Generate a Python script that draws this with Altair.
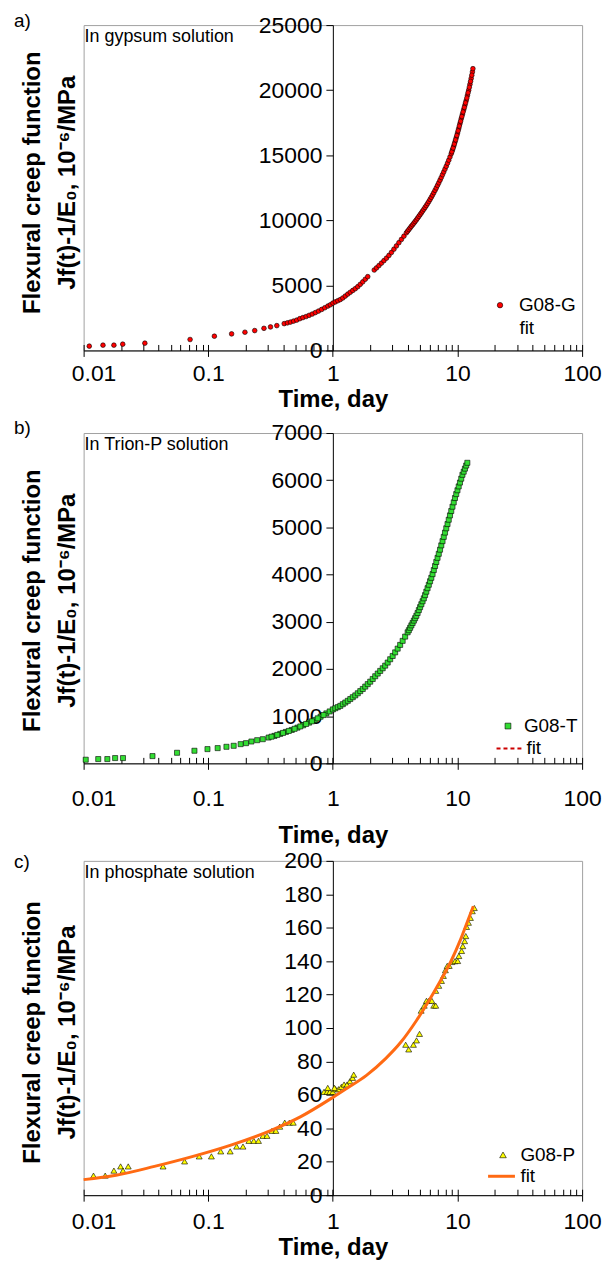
import altair as alt
import pandas as pd

FONT = "Liberation Sans"

# ---------------- (a) gypsum solution ----------------
a_series = "G08-G"
a_t = [0.0111, 0.0143, 0.0175, 0.0206, 0.031, 0.0715, 0.112, 0.154, 0.197, 0.236, 0.280, 0.316, 0.355,
       0.407, 0.432, 0.457, 0.484, 0.513, 0.543, 0.575, 0.610, 0.646, 0.684, 0.724, 0.767, 0.813, 0.861, 0.912, 0.955,
       1.0, 1.047, 1.096, 1.148, 1.202, 1.259, 1.318, 1.380, 1.445, 1.514, 1.585, 1.660, 1.738, 1.820, 1.905,
       2.148, 2.239, 2.344, 2.455, 2.570, 2.692, 2.818, 2.951, 3.090, 3.236, 3.388, 3.548, 3.715, 3.890,
       3.981, 4.074, 4.169, 4.266, 4.365, 4.467, 4.571, 4.677, 4.786, 4.898,
       5.012, 5.129, 5.248, 5.370, 5.495, 5.623, 5.754, 5.888, 6.026, 6.166,
       6.310, 6.457, 6.607, 6.761, 6.918, 7.079, 7.244, 7.413, 7.586, 7.762,
       7.943, 8.128, 8.318, 8.511, 8.710, 8.913, 9.120, 9.333, 9.550, 9.772,
       10.0, 10.23, 10.47, 10.72, 10.96, 11.22, 11.48, 11.75, 12.02, 12.30,
       12.59, 12.88, 13.18, 13.30,
       9.016, 9.226, 9.441, 9.661, 9.886, 10.12, 10.35, 10.59, 10.84, 11.09, 11.35, 11.61, 11.89, 12.16,
       12.45, 12.74, 13.03]
a_J = [330, 407, 407, 483, 560, 840, 1094, 1272, 1400, 1526, 1700, 1805, 1907,
       2060, 2120, 2180, 2255, 2330, 2440, 2525, 2605, 2700, 2797, 2910, 3025, 3150, 3280, 3410, 3510,
       3637, 3730, 3820, 3910, 4030, 4180, 4330, 4470, 4610, 4745, 4900, 5080, 5270, 5470, 5670,
       6180, 6340, 6520, 6710, 6900, 7090, 7300, 7530, 7780, 8030, 8280, 8530, 8780, 9040,
       9165, 9290, 9415, 9540, 9660, 9780, 9905, 10030, 10165, 10300,
       10435, 10570, 10710, 10850, 10990, 11130, 11285, 11440, 11605, 11770,
       11945, 12120, 12305, 12490, 12685, 12880, 13085, 13290, 13505, 13720,
       13935, 14150, 14385, 14620, 14870, 15120, 15410, 15700, 16020, 16340,
       16695, 17050, 17425, 17800, 18150, 18500, 18850, 19200, 19600, 20000,
       20450, 20900, 21400, 21650,
       15265, 15555, 15860, 16180, 16518, 16873, 17238, 17613, 17975, 18325, 18675, 19025, 19400, 19800,
       20225, 20675, 21150]
a_fit_t = [0.01, 0.02, 0.05, 0.1, 0.2, 0.3, 0.5, 0.7, 1.0, 1.5, 2.0, 3.0, 4.0, 5.0, 6.0, 7.0, 8.0, 9.0,
           10.0, 11.0, 12.0, 13.3]
a_fit_J = [300, 450, 720, 1030, 1420, 1760, 2290, 2840, 3637, 4720, 5900, 7760, 9210, 10330, 11500,
           12840, 14000, 15350, 16695, 18150, 19500, 21650]

# ---------------- (b) Trion-P solution ----------------
b_series = "G08-T"
b_t = [0.0104, 0.0131, 0.0155, 0.0179, 0.0207, 0.0357, 0.0562, 0.0775, 0.0986, 0.119, 0.140, 0.160, 0.182,
       0.201, 0.222, 0.247, 0.274, 0.305, 0.340, 0.378, 0.420, 0.468, 0.520, 0.578, 0.644, 0.716, 0.797, 0.887,
       0.322, 0.358, 0.398, 0.443, 0.493, 0.548, 0.610, 0.679, 0.756, 0.842, 0.943,
       1.0, 1.047, 1.096, 1.148, 1.202, 1.259, 1.318, 1.380, 1.445, 1.514, 1.585, 1.660, 1.738, 1.820, 1.905,
       1.995, 2.089, 2.188, 2.291, 2.399, 2.512, 2.630, 2.754, 2.884, 3.020, 3.162, 3.311, 3.467, 3.631,
       3.802, 3.981,
       4.074, 4.169, 4.266, 4.365, 4.467, 4.571, 4.677, 4.786, 4.898, 5.012,
       5.129, 5.248, 5.370, 5.495, 5.623, 5.754, 5.888, 6.026, 6.166, 6.310,
       6.457, 6.607, 6.761, 6.918, 7.079, 7.244, 7.413, 7.586, 7.762, 7.943,
       8.128, 8.318, 8.511, 8.710, 8.913, 9.120, 9.333, 9.550, 9.772, 10.0,
       10.23, 10.47, 10.72, 10.96, 11.22, 11.48, 11.75, 12.0]
b_J = [77, 91, 91, 112, 112, 154, 224, 267, 302, 323, 351, 372, 407,
       428, 463, 491, 512, 547, 582, 624, 666, 708, 757, 807, 863, 919, 989, 1059,
       565, 603, 645, 687, 732, 782, 835, 891, 954, 1024, 1100,
       1143, 1168, 1192, 1218, 1254, 1289, 1325, 1363, 1402, 1440, 1485, 1531, 1576, 1627, 1679,
       1731, 1788, 1846, 1903, 1959, 2015, 2071, 2136, 2206, 2276, 2352, 2431, 2510, 2596,
       2686, 2777,
       2822, 2873, 2924, 2974, 3025, 3076, 3127, 3186, 3248, 3310,
       3372, 3435, 3497, 3565, 3638, 3712, 3785, 3859, 3932, 4010,
       4096, 4182, 4268, 4355, 4441, 4528, 4619, 4709, 4800, 4890,
       4981, 5071, 5163, 5255, 5347, 5439, 5531, 5623, 5706, 5787,
       5869, 5951, 6033, 6115, 6181, 6246, 6311, 6369]
b_fit_t = [0.3, 0.5, 0.7, 1.0, 1.5, 2.0, 3.0, 4.0, 5.0, 6.0, 7.0, 8.0, 9.0, 10.0, 11.0, 12.0]
b_fit_J = [545, 740, 910, 1143, 1435, 1735, 2265, 2786, 3304, 3844, 4398, 4917, 5384, 5787, 6123, 6369]

# ---------------- (c) phosphate solution ----------------
c_series = "G08-P"
c_t = [0.0120, 0.0149, 0.0175, 0.0198, 0.0207, 0.0228, 0.0434, 0.0646, 0.0846, 0.106, 0.126, 0.150, 0.169,
       0.190, 0.212, 0.232, 0.253, 0.275, 0.296, 0.325, 0.349, 0.375, 0.411, 0.448, 0.481,
       0.849, 0.899, 0.945, 1.0, 1.05, 1.11, 1.17, 1.23, 1.30, 1.37, 1.44, 1.47, 0.91, 1.03,
       3.84, 4.06, 4.43, 4.69, 4.96, 5.11, 5.41, 5.64, 5.89, 6.23, 6.45, 6.69, 6.69, 7.08, 7.44,
       7.71, 8.00, 8.28, 8.58, 9.02, 9.55, 10.04, 10.26, 10.79, 11.03, 11.41, 11.66, 11.83, 12.25,
       12.70, 13.16, 13.65]
c_J = [11.7, 11.7, 14.7, 17.2, 14.7, 17.2, 17.2, 20.2, 23.2, 23.2, 26.2, 26.2, 29.1,
       29.1, 32.5, 32.5, 32.5, 35.5, 35.5, 38.5, 38.5, 41.0, 43.4, 43.4, 43.4,
       61.8, 61.8, 61.8, 61.8, 63.4, 63.4, 64.8, 66.2, 66.2, 68.2, 70.2, 72.1, 64.2, 64.2,
       90.0, 87.2, 90.0, 92.6, 96.5, 110.4, 113.4, 116.3, 116.3, 116.3, 113.4, 113.4, 122.3, 125.3, 128.2,
       131.2, 134.6, 137.2, 137.2, 139.5, 140.0, 140.1, 143.1, 146.1, 149.0, 152.0, 155.0, 160.5, 163.0,
       165.9, 169.9, 171.8]
c_fit_t = [0.01, 0.0182, 0.037, 0.0755, 0.154, 0.313, 0.553, 1.0, 1.30, 1.86, 2.65, 3.52, 4.69, 5.80,
           7.17, 8.89, 10.6, 12.2, 13.4]
c_fit_J = [9.3, 11.9, 17.2, 23.2, 30.1, 38.5, 47.0, 58.5, 64.0, 71.7, 81.7, 91.6, 104.5, 115.4,
           127.2, 140.1, 153.0, 164.9, 172.8]

x_decades = [0.01, 0.1, 1, 10, 100]
x_minor = [m * 10.0 ** e for e in range(-2, 2) for m in range(1, 10)] + [100]

W = 501


def panel(letter, letter_y, note, series, t, J, fit_t, fit_J, ymax, ystep, H,
          shape, fill, size, fit_color, fit_width, fit_dash, fit_on_top,
          label_pad, title_pad, title_y, leg):
    pts = pd.DataFrame({"t": t, "J": J, "series": series})
    fit = pd.DataFrame({"t": fit_t, "J": fit_J, "fitlab": "fit"})
    xs = alt.Scale(type="log", domain=[0.01, 100], nice=False)
    ys = alt.Scale(domain=[0, ymax], nice=False, zero=False)

    x_axis = alt.Axis(
        orient="bottom", values=x_decades, format="~g", title="Time, day",
        tickSize=6, labelPadding=label_pad, titlePadding=title_pad, labelFlush=False,
        labelOverlap=False, labelFontSize=23, titleFontSize=24, grid=False,
        labelOffset={"condition": {"test": "datum.value < 0.05", "value": 10}, "value": 0},
        domainColor="black", tickColor="black")
    y_axis = alt.Axis(
        orient="left", offset=-W / 2, values=list(range(0, ymax + 1, ystep)), format="d",
        tickSize=7, labelPadding=4, labelFontSize=23, grid=False, labelOverlap=False,
        domainColor="black", tickColor="black",
        title=["Flexural creep function", "Jf(t)-1/E\u2080, 10\u207b\u2076/MPa"],
        titleFontSize=24, titleAngle=270, titleAlign="center", titleBaseline="middle",
        titleLineHeight=35, titleX=-301.5, titleY=title_y)

    pt = alt.Chart(pts).mark_point(
        shape=shape, filled=True, size=size, stroke="black", strokeWidth=0.6, opacity=1
    ).encode(
        x=alt.X("t:Q", scale=xs, axis=x_axis),
        y=alt.Y("J:Q", scale=ys, axis=y_axis),
        fill=alt.Fill("series:N", scale=alt.Scale(domain=[series], range=[fill]),
                      legend=alt.Legend(title=None, orient="none", legendX=leg["px"], legendY=leg["py"],
                                        padding=0, labelFontSize=19, labelOffset=leg["plo"],
                                        symbolType=shape, symbolSize=size + 8,
                                        symbolStrokeColor="black", symbolStrokeWidth=0.6)),
    )

    line_kw = dict(strokeWidth=fit_width, interpolate="monotone")
    leg_kw = dict(title=None, orient="none", legendX=leg["fx"], legendY=leg["fy"], padding=0,
                  labelFontSize=19, labelOffset=leg["flo"], symbolType="stroke", symbolSize=729,
                  symbolStrokeWidth=fit_width)
    if fit_dash:
        line_kw["strokeDash"] = fit_dash
        leg_kw["symbolDash"] = fit_dash
    fl = alt.Chart(fit).mark_line(**line_kw).encode(
        x=alt.X("t:Q", scale=xs,
                axis=alt.Axis(orient="top", offset=-H, values=x_minor, labels=False, domain=False,
                              ticks=True, tickSize=6, title=None, grid=False, tickColor="black")),
        y=alt.Y("J:Q", scale=ys, axis=None),
        stroke=alt.Stroke("fitlab:N", scale=alt.Scale(domain=["fit"], range=[fit_color]),
                          legend=alt.Legend(**leg_kw)),
    )

    lt = alt.Chart(pd.DataFrame({"s": [letter]})).mark_text(
        align="left", baseline="middle", fontSize=19, font=FONT, color="black"
    ).encode(text="s:N", x=alt.value(-70), y=alt.value(letter_y))
    nt = alt.Chart(pd.DataFrame({"s": [note]})).mark_text(
        align="left", baseline="middle", fontSize=18, font=FONT, color="black"
    ).encode(text="s:N", x=alt.value(1), y=alt.value(12))

    layers = [pt, fl] if fit_on_top else [fl, pt]
    return alt.layer(*layers, lt, nt).resolve_axis(x="independent", y="independent").properties(
        width=W, height=H)


pa = panel("a)", -4, "In gypsum solution", a_series, a_t, a_J, a_fit_t, a_fit_J, 25000, 5000, 327,
           "circle", "#ff0000", 22, "transparent", 2, None, False, 6, 2, 158,
           dict(px=409, py=272, plo=9.5, fx=405, fy=289.5, flo=4))
pb = panel("b)", -5, "In Trion-P solution", b_series, b_t, b_J, b_fit_t, b_fit_J, 7000, 1000, 332,
           "square", "#33dd33", 26, "#cc0000", 2, [4, 3], False, 18, 14, 168,
           dict(px=417, py=285, plo=6.5, fx=414, fy=302.5, flo=2))
pc = panel("c)", 1, "In phosphate solution", c_series, c_t, c_J, c_fit_t, c_fit_J, 200, 20, 336,
           "triangle-up", "#ffff00", 36, "#ff6a13", 3, None, True, 9, 3, 172,
           dict(px=412, py=286, plo=8, fx=405, fy=302, flo=4))

top = alt.vconcat(pa, pb, spacing=6).resolve_scale(
    x="independent", y="independent", fill="independent", stroke="independent"
).resolve_legend(fill="independent", stroke="independent")

chart = alt.vconcat(top, pc, spacing=0).resolve_scale(
    x="independent", y="independent", fill="independent", stroke="independent"
).resolve_legend(fill="independent", stroke="independent").properties(
    padding={"left": 5, "top": 0, "right": 0, "bottom": 0}
).configure_view(
    stroke="#a0a0a0", strokeWidth=1
).configure_axis(
    labelFont=FONT, titleFont=FONT, labelColor="black", titleColor="black"
).configure_legend(
    labelFont=FONT, labelColor="black"
)

chart.save("out.html", embed_options={"renderer": "svg", "actions": False})
